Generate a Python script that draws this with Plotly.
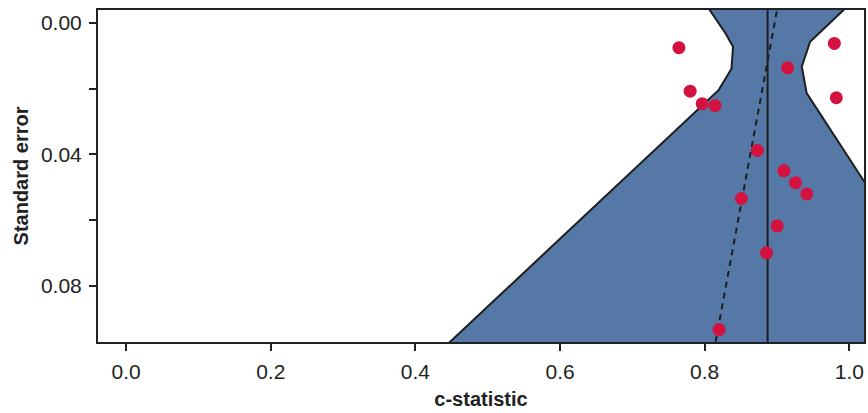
import plotly.graph_objects as go

# Study estimates (c-statistic vs standard error)
c_stat = [0.7644, 0.9793, 0.9146, 0.9820, 0.7799, 0.7965, 0.8143, 0.8728,
          0.9095, 0.9256, 0.9412, 0.8507, 0.9003, 0.8856, 0.8199]
std_err = [0.0076, 0.0063, 0.0137, 0.0228, 0.0208, 0.0246, 0.0252, 0.0388,
           0.0450, 0.0486, 0.0520, 0.0534, 0.0617, 0.0699, 0.0932]

# Funnel (contour) region boundary
funnel_c = [0.788, 0.807, 0.8287, 0.8392, 0.837, 0.8195, 0.4475, 0.433,
            1.08, 1.08, 1.019, 0.941, 0.9343, 0.9458, 0.9917, 1.022, 0.788]
funnel_se = [-0.010, -0.0038, 0.0032, 0.0073, 0.0140, 0.0204, 0.0970, 0.100,
             0.100, 0.0680, 0.0477, 0.0214, 0.0133, 0.0058, -0.0038, -0.010, -0.010]

# Pooled estimate and regression (Egger-type) line
pooled_c = 0.887
reg_se = [-0.01, 0.10]
reg_c = [0.8968 - 0.843 * s for s in reg_se]

x_ticks = [0.0, 0.2, 0.4, 0.6, 0.8, 1.0]
x_ticklabels = ["0.0", "0.2", "0.4", "0.6", "0.8", "1.0"]
y_ticks = [0.00, 0.02, 0.04, 0.06, 0.08]
y_ticklabels = ["0.00", "", "0.04", "", "0.08"]

fig = go.Figure()
fig.add_trace(go.Scatter(x=funnel_c, y=funnel_se, mode="lines", fill="toself",
                         fillcolor="#5578A6", line=dict(color="#1e1e1e", width=2),
                         hoverinfo="skip", showlegend=False))
fig.add_trace(go.Scatter(x=[pooled_c, pooled_c], y=[-0.01, 0.10], mode="lines",
                         line=dict(color="#1e1e1e", width=2), showlegend=False))
fig.add_trace(go.Scatter(x=reg_c, y=reg_se, mode="lines",
                         line=dict(color="#1e1e1e", width=2, dash="6px,5px"), showlegend=False))
fig.add_trace(go.Scatter(x=c_stat, y=std_err, mode="markers",
                         marker=dict(color="#D4123F", size=13, line=dict(width=0)),
                         showlegend=False, cliponaxis=False))

font_family = "Liberation Sans, Arial, Helvetica, sans-serif"
fig.update_layout(
    width=868, height=413,
    margin=dict(l=98, r=2, t=10, b=71),
    plot_bgcolor="white", paper_bgcolor="white",
    font=dict(family=font_family, size=21, color="#222222"),
    xaxis=dict(range=[-0.0389, 1.0203], tickvals=x_ticks, ticktext=x_ticklabels,
               showgrid=False, zeroline=False, showline=True, linecolor="#222222",
               linewidth=2, mirror=True, ticks="outside", ticklen=7, tickwidth=1.5,
               tickcolor="#222222", ticklabelstandoff=3,
               title=dict(text="<b>c-statistic</b>", font=dict(size=20), standoff=10)),
    yaxis=dict(range=[0.09697, -0.00385], tickvals=y_ticks, ticktext=y_ticklabels,
               showgrid=False, zeroline=False, showline=True, linecolor="#222222",
               linewidth=2, mirror=True, ticks="outside", ticklen=7, tickwidth=1.5,
               tickcolor="#222222", ticklabelstandoff=3,
               title=dict(text="<b>Standard error</b>", font=dict(size=20), standoff=7)),
)

fig.write_html("out.html")
